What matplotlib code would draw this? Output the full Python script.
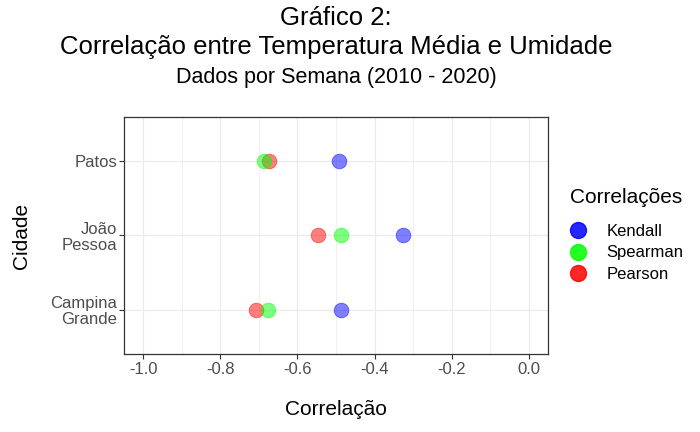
import matplotlib
matplotlib.use("Agg")
import matplotlib.pyplot as plt
from matplotlib.lines import Line2D

plt.rcParams['font.family'] = ['Liberation Sans', 'DejaVu Sans']

cidades = ["Campina\nGrande", "João\nPessoa", "Patos"]
pearson = [-0.708, -0.546, -0.675]
spearman = [-0.677, -0.486, -0.688]
kendall = [-0.488, -0.325, -0.493]
metodos = ["Kendall", "Spearman", "Pearson"]
cores = {"Kendall": "#0000FF", "Spearman": "#00FF00", "Pearson": "#FF0000"}
xticks = [-1.0, -0.8, -0.6, -0.4, -0.2, 0.0]

fig = plt.figure(figsize=(7, 4.32), dpi=100)
ax = fig.add_axes([124/700, 1 - 354/432, 424/700, 237/432])

ypos = list(range(1, len(cidades) + 1))
for nome, vals in [("Pearson", pearson), ("Spearman", spearman), ("Kendall", kendall)]:
    ax.scatter(vals, ypos, s=112, color=cores[nome], alpha=0.5, edgecolors=cores[nome],
               linewidths=0.6, zorder=3)

ax.set_xlim(-1.05, 0.05)
ax.set_ylim(0.4, 3.6)
ax.set_xticks(xticks)
ax.set_xticklabels(["%.1f" % v for v in xticks])
ax.set_xticks([-0.9, -0.7, -0.5, -0.3, -0.1], minor=True)
ax.set_yticks(ypos)
ax.set_yticklabels(cidades, ha="right", multialignment="right", linespacing=1.1)
ax.grid(True, which="major", color="#EBEBEB", linewidth=0.9, zorder=0)
ax.grid(True, which="minor", axis="x", color="#EBEBEB", linewidth=0.5, zorder=0)
ax.set_axisbelow(True)
ax.tick_params(which="major", length=3.5, color="#333333", labelsize=12, labelcolor="#4D4D4D", width=0.8)
ax.tick_params(axis="y", pad=1.5)
ax.tick_params(axis="x", pad=2.5)
ax.tick_params(which="minor", length=0)
for sp in ax.spines.values():
    sp.set_color("#333333")
    sp.set_linewidth(0.9)

ax.set_xlabel("Correlação", fontsize=15, labelpad=16)
ax.set_ylabel("Cidade", fontsize=15, labelpad=14)

cx = (124 + 548) / 2 / 700
fig.text(cx, 1 - 18/432, "Gráfico 2:", ha="center", va="center", fontsize=18.5)
fig.text(cx, 1 - 47/432, "Correlação entre Temperatura Média e Umidade", ha="center", va="center", fontsize=18.5)
fig.text(cx, 1 - 77/432, "Dados por Semana (2010 - 2020)", ha="center", va="center", fontsize=15.5)

fig.text(570/700, 1 - 198/432, "Correlações", ha="left", va="center", fontsize=15)
handles = [Line2D([], [], marker="o", linestyle="", markersize=11.5, color=cores[m], alpha=0.85,
                  markeredgecolor=cores[m]) for m in metodos]
leg = fig.legend(handles, metodos, loc="upper left", bbox_to_anchor=(568/700, 1 - 224/432),
                 frameon=False, fontsize=12, handlelength=1.2, handletextpad=1.1,
                 labelspacing=0.38, borderaxespad=0, borderpad=0)

fig.savefig("out.png", dpi=100)
